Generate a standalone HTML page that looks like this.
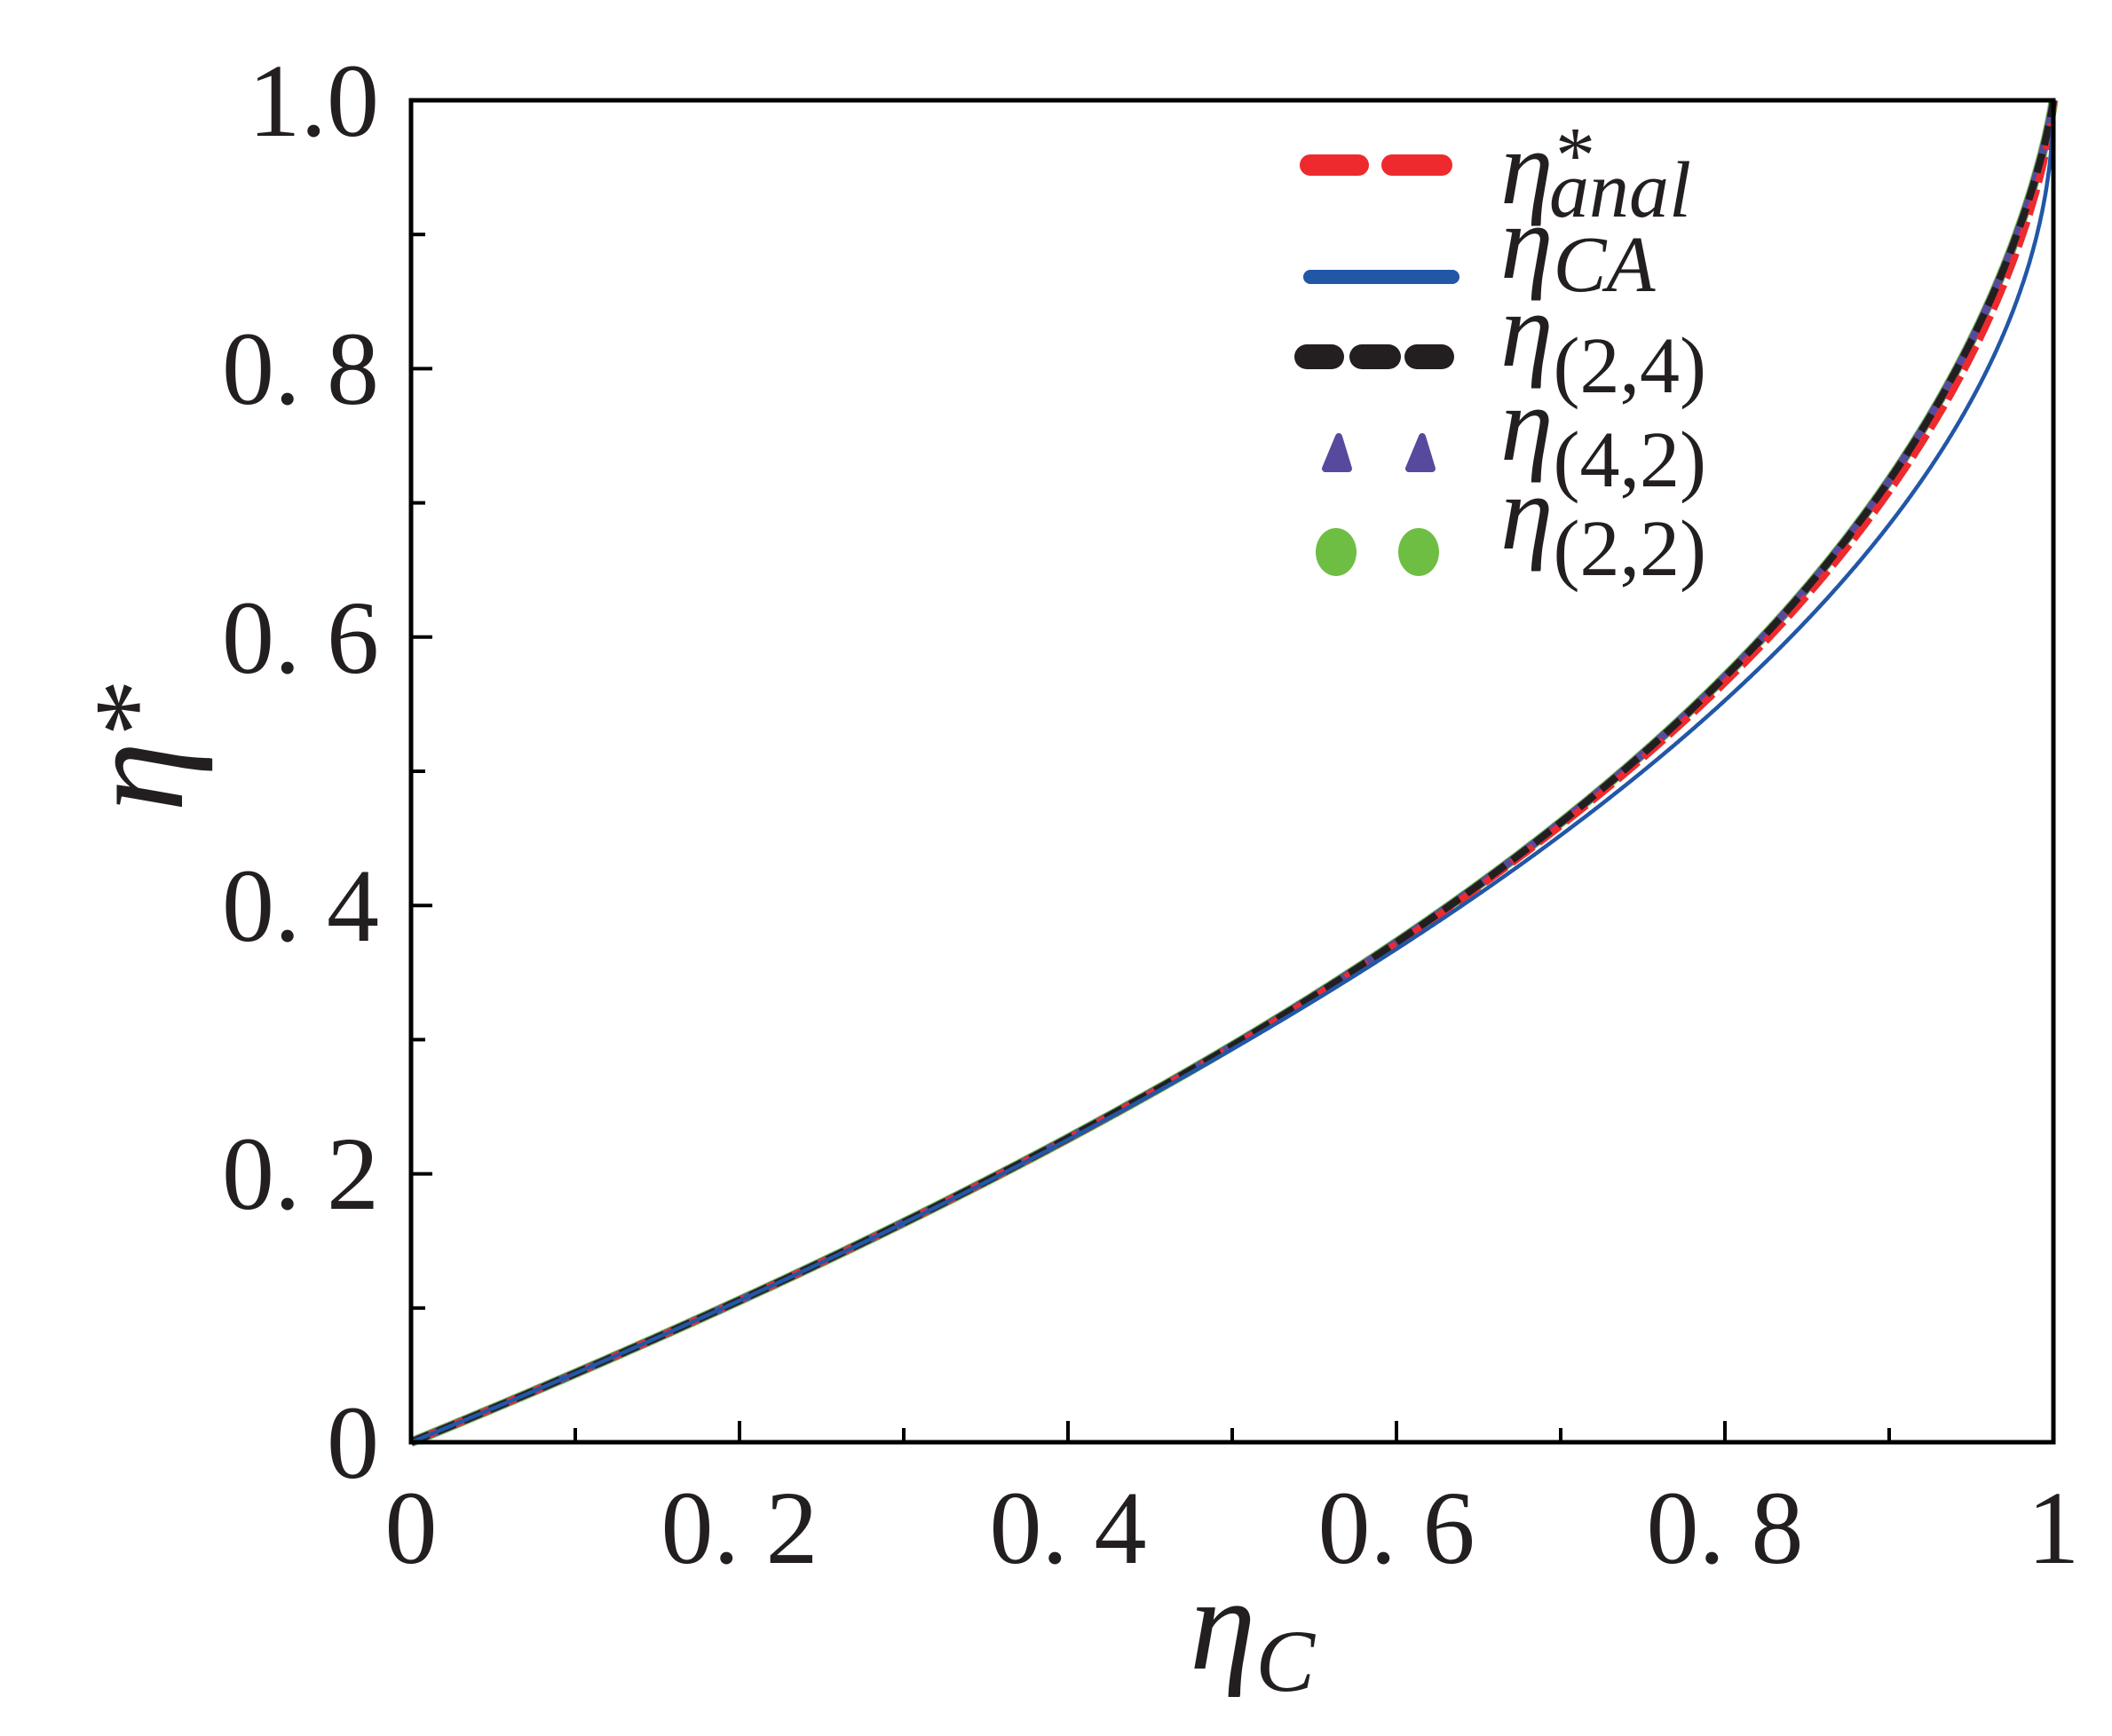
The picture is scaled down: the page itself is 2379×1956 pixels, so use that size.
<!DOCTYPE html>
<html><head><meta charset="utf-8"><style>
html,body{margin:0;padding:0;background:#fff;}
svg{display:block}
text{font-family:"Liberation Serif",serif;fill:#231f20}
</style></head><body>
<svg id="s" width="2379" height="1956" viewBox="0 0 2379 1956" xmlns="http://www.w3.org/2000/svg">
<g id="ticks" stroke="#000" stroke-width="4"></g>
<g id="curves" fill="none" stroke-linecap="butt"></g>
<rect x="463" y="113" width="1850" height="1512" fill="none" stroke="#000" stroke-width="5"/>
<g font-size="118">
<text x="427" y="153" text-anchor="end">1.0</text>
<text x="427" y="455" text-anchor="end">0. 8</text>
<text x="427" y="758" text-anchor="end">0. 6</text>
<text x="427" y="1060" text-anchor="end">0. 4</text>
<text x="427" y="1362" text-anchor="end">0. 2</text>
<text x="427" y="1665" text-anchor="end">0</text>
<text x="463" y="1761" text-anchor="middle">0</text>
<text x="833" y="1761" text-anchor="middle">0. 2</text>
<text x="1203" y="1761" text-anchor="middle">0. 4</text>
<text x="1573" y="1761" text-anchor="middle">0. 6</text>
<text x="1943" y="1761" text-anchor="middle">0. 8</text>
<text x="2313" y="1761" text-anchor="middle">1</text>
</g>
<text x="1340" y="1880" font-size="150" font-style="italic">η<tspan font-size="100" dy="25">C</tspan></text>
<g transform="translate(205,915) rotate(-90)"><text x="0" y="0" font-size="160" font-style="italic">η</text><text x="85" y="-10" font-size="130" font-style="normal">*</text></g>
<!-- legend -->
<g stroke-linecap="round">
<line x1="1476" y1="186" x2="1530" y2="186" stroke="#ee2a2e" stroke-width="24"/>
<line x1="1568" y1="186" x2="1624" y2="186" stroke="#ee2a2e" stroke-width="24"/>
<line x1="1476" y1="312" x2="1636" y2="312" stroke="#2257a6" stroke-width="16"/>
<line x1="1472" y1="402" x2="1500" y2="402" stroke="#231f20" stroke-width="28"/>
<line x1="1534" y1="402" x2="1564" y2="402" stroke="#231f20" stroke-width="28"/>
<line x1="1596" y1="402" x2="1624" y2="402" stroke="#231f20" stroke-width="28"/>
</g>
<polygon points="1493,528 1519,528 1508,492" fill="#574a9e" stroke="#574a9e" stroke-width="8" stroke-linejoin="round"/>
<polygon points="1587,528 1613,528 1602,492" fill="#574a9e" stroke="#574a9e" stroke-width="8" stroke-linejoin="round"/>
<ellipse cx="1505" cy="622" rx="23" ry="27" fill="#6fbe44"/>
<ellipse cx="1598" cy="622" rx="23" ry="27" fill="#6fbe44"/>
<g font-style="italic">
<text x="1690" y="229" font-size="120">η</text><text x="1752" y="205" font-size="90" font-style="normal">*</text><text x="1745" y="244" font-size="90">anal</text>
<text x="1690" y="313" font-size="120">η<tspan font-size="90" dy="15">CA</tspan></text>
<text x="1690" y="412" font-size="120">η<tspan font-size="90" font-style="normal" dy="30">(2,4)</tspan></text>
<text x="1690" y="518" font-size="120">η<tspan font-size="90" font-style="normal" dy="30">(4,2)</tspan></text>
<text x="1690" y="618" font-size="120">η<tspan font-size="90" font-style="normal" dy="30">(2,2)</tspan></text>
</g>
</svg>
<script>
(function(){
var NS="http://www.w3.org/2000/svg";
var X=function(v){return 463+1850*v}, Y=function(v){return 1625-1512*v};
var t=document.getElementById("ticks");
function ln(x1,y1,x2,y2){var l=document.createElementNS(NS,"line");l.setAttribute("x1",x1);l.setAttribute("y1",y1);l.setAttribute("x2",x2);l.setAttribute("y2",y2);t.appendChild(l);}
for(var i=1;i<10;i++){var len=(i%2==0)?24:16;ln(X(i/10),1625,X(i/10),1625-len);ln(463,Y(i/10),463+len,Y(i/10));}
function ca(e){return 1-Math.sqrt(1-e);}
function ss(e){if(e>=0.99999)return 1;if(e<1e-6)return e/2;return e*e/(e-(1-e)*Math.log(1-e));}
function an(e){return 0.75*ss(e)+0.25*ca(e);}
function path(f,col,w,dash){var d="";for(var i=0;i<=2000;i++){var e=i/2000;d+=(i?"L":"M")+X(e).toFixed(1)+" "+Y(f(e)).toFixed(1);}
var p=document.createElementNS(NS,"path");p.setAttribute("d",d);p.setAttribute("stroke",col);p.setAttribute("stroke-width",w);if(dash)p.setAttribute("stroke-dasharray",dash);document.getElementById("curves").appendChild(p);}
path(ss,"#6fbe44",11);
path(ss,"#574a9e",9);
path(an,"#ee2a2e",8,"30 8");
path(ss,"#231f20",8,"22 10");
path(ca,"#2257a6",4.5);
})();
</script>
</body></html>
